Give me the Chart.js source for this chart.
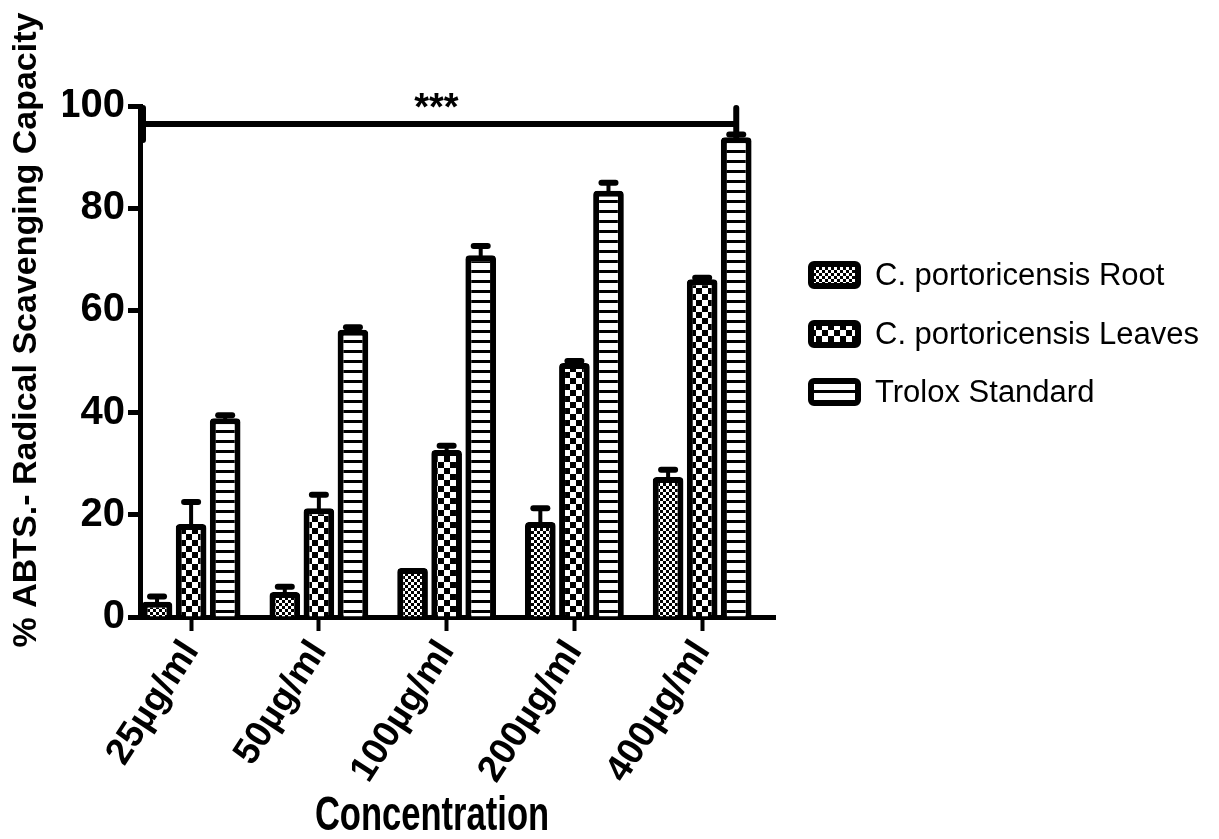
<!DOCTYPE html>
<html>
<head>
<meta charset="utf-8">
<script src="https://cdn.jsdelivr.net/npm/chart.js@4.4.1/dist/chart.umd.min.js"></script>
<style>
  html, body { margin: 0; padding: 0; background: #fff; }
</style>
</head>
<body>
<canvas id="abtsChart" width="1219" height="839"></canvas>
<script>
const concentrations = ['25µg/ml', '50µg/ml', '100µg/ml', '200µg/ml', '400µg/ml'];
const seriesNames = ['C. portoricensis Root', 'C. portoricensis Leaves', 'Trolox Standard'];
const rootMean = [3.0, 4.9, 9.6, 18.6, 27.4];
const rootErr = [1.0, 1.0, 0, 2.7, 1.4];
const leavesMean = [18.2, 21.3, 32.7, 49.7, 66.1];
const leavesErr = [4.3, 2.6, 0.8, 0.4, 0.3];
const troloxMean = [38.9, 56.2, 70.8, 83.4, 93.9];
const troloxErr = [0.6, 0.5, 1.8, 1.6, 0.5];
const yTicks = [0, 20, 40, 60, 80, 100];
const bracketLevel = 96.5;
const bracketLabel = '***';

const narrow = "'Liberation Sans Narrow', 'Arial Narrow', 'Liberation Sans', sans-serif";
const sans = "'Liberation Sans', Arial, sans-serif";

// fill patterns
function makePattern(w, h, draw) {
  const c = document.createElement('canvas');
  c.width = w; c.height = h;
  const g = c.getContext('2d');
  g.fillStyle = '#fff';
  g.fillRect(0, 0, w, h);
  g.fillStyle = '#000';
  draw(g);
  return document.getElementById('abtsChart').getContext('2d').createPattern(c, 'repeat');
}
const smallChecks = makePattern(6, 6, g => { g.fillRect(0, 0, 3, 3); g.fillRect(3, 3, 3, 3); });
const bigChecks = makePattern(12, 12, g => { g.fillRect(0, 0, 6, 6); g.fillRect(6, 6, 6, 6); });
const stripes = makePattern(10, 10, g => { g.fillRect(0, 0, 10, 3); });
const fills = [smallChecks, bigChecks, stripes];

const means = [rootMean, leavesMean, troloxMean];
const errors = [rootErr, leavesErr, troloxErr];

const extras = {
  id: 'extras',
  afterDatasetsDraw(chart) {
    const ctx = chart.ctx;
    const y = chart.scales.y;
    ctx.save();
    ctx.strokeStyle = '#000';
    ctx.lineCap = 'round';
    means.forEach((vals, i) => {
      const meta = chart.getDatasetMeta(i);
      vals.forEach((v, j) => {
        if (!errors[i][j]) return;
        const bx = meta.data[j].x;
        const y0 = y.getPixelForValue(v);
        const y1 = y.getPixelForValue(v + errors[i][j]);
        ctx.lineWidth = 4;
        ctx.beginPath(); ctx.moveTo(bx, y0); ctx.lineTo(bx, y1); ctx.stroke();
        ctx.lineWidth = 6;
        ctx.beginPath(); ctx.moveTo(bx - 7, y1); ctx.lineTo(bx + 7, y1); ctx.stroke();
      });
    });
    ctx.restore();
  },
  afterDraw(chart) {
    const ctx = chart.ctx;
    const area = chart.chartArea;
    const x = chart.scales.x, y = chart.scales.y;
    ctx.save();
    // significance bracket
    const by = y.getPixelForValue(bracketLevel);
    const lastBar = chart.getDatasetMeta(2).data[troloxMean.length - 1];
    const bx1 = area.left + 3, bx2 = lastBar.x;
    ctx.strokeStyle = '#000';
    ctx.lineCap = 'round';
    ctx.lineWidth = 6;
    ctx.beginPath();
    ctx.moveTo(bx1, by - 16); ctx.lineTo(bx1, by + 16);
    ctx.moveTo(bx1, by); ctx.lineTo(bx2, by);
    ctx.moveTo(bx2, by - 16); ctx.lineTo(bx2, lastBar.y);
    ctx.stroke();
    ctx.fillStyle = '#000';
    ctx.font = 'bold 38px ' + sans;
    ctx.textAlign = 'center';
    ctx.textBaseline = 'alphabetic';
    ctx.fillText(bracketLabel, x.getPixelForValue(1.92), by - 4);

    // axis titles
    ctx.save();
    ctx.translate(27, 330);
    ctx.rotate(-Math.PI / 2);
    ctx.font = 'bold 34px ' + sans;
    ctx.textBaseline = 'middle';
    ctx.fillText('% ABTS.- Radical Scavenging Capacity', 0, 0);
    ctx.restore();
    ctx.save();
    ctx.translate(432, 830);
    ctx.scale(0.72, 1);
    ctx.font = 'bold 48px ' + sans;
    ctx.fillText('Concentration', 0, 0);
    ctx.restore();

    // legend
    const rows = [275, 334, 392];
    seriesNames.forEach((name, i) => {
      const ry = rows[i];
      ctx.beginPath();
      ctx.roundRect(811, ry - 11, 47, 22, 3);
      ctx.fillStyle = fills[i];
      ctx.fill();
      ctx.lineWidth = 6;
      ctx.strokeStyle = '#000';
      ctx.stroke();
      ctx.fillStyle = '#000';
      ctx.font = '31px ' + sans;
      ctx.textAlign = 'left';
      ctx.textBaseline = 'middle';
      ctx.fillText(name, 875, ry + 1);
    });
    ctx.restore();
  }
};

const ctx = document.getElementById('abtsChart').getContext('2d');

new Chart(ctx, {
  type: 'bar',
  data: {
    datasets: means.map((vals, i) => ({
      label: seriesNames[i],
      data: vals.map((v, j) => ({ x: j, y: v })),
      backgroundColor: fills[i],
      borderColor: '#000',
      borderWidth: 6,
      borderRadius: { topLeft: 4, topRight: 4 },
      categoryPercentage: 0.8,
      barPercentage: 0.9
    }))
  },
  options: {
    responsive: false,
    animation: false,
    devicePixelRatio: 1,
    layout: { padding: { left: 63, top: 106, right: 444, bottom: 0 } },
    plugins: {
      legend: { display: false },
      tooltip: { enabled: false }
    },
    scales: {
      x: {
        type: 'linear',
        min: -0.4,
        max: 4.57,
        offset: false,
        afterFit: s => { s.height = 222; },
        border: { color: '#000', width: 5 },
        grid: { offset: false, drawOnChartArea: false, drawTicks: true, tickLength: 14, tickWidth: 4, tickColor: '#000' },
        ticks: {
          stepSize: 1,
          includeBounds: false,
          autoSkip: false,
          minRotation: 57,
          maxRotation: 57,
          padding: 2,
          color: '#000',
          font: { family: narrow, size: 37, weight: 'bold' },
          callback: v => Number.isInteger(v) ? concentrations[v] : ''
        }
      },
      y: {
        min: 0,
        max: 100,
        afterFit: s => { s.width = 77; },
        afterBuildTicks: s => { s.ticks = yTicks.map(v => ({ value: v })); },
        border: { color: '#000', width: 5 },
        grid: { drawOnChartArea: false, drawTicks: true, tickLength: 12, tickWidth: 5, tickColor: '#000' },
        ticks: {
          padding: 3,
          color: '#000',
          font: { family: narrow, size: 40, weight: 'bold' }
        }
      }
    }
  },
  plugins: [extras]
});
</script>
</body>
</html>
